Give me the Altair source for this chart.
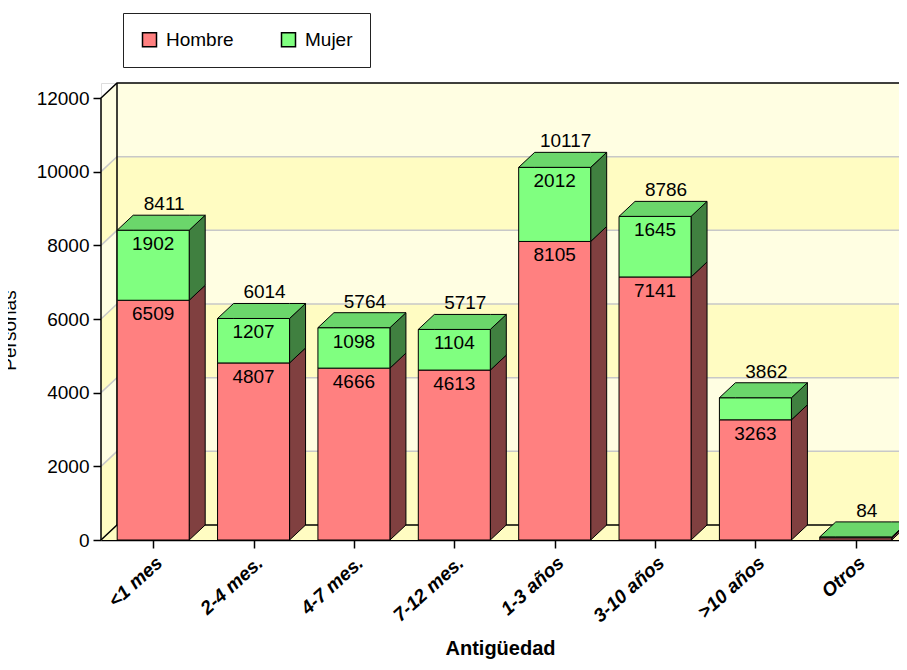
import json
import altair as alt
import pandas as pd

# ---------------- data ----------------
categories = ["<1 mes", "2-4 mes.", "4-7 mes.", "7-12 mes.", "1-3 años", "3-10 años", ">10 años", "Otros"]
hombre = [6509, 4807, 4666, 4613, 8105, 7141, 3263, 58]
mujer = [1902, 1207, 1098, 1104, 2012, 1645, 599, 26]
series = ["Hombre", "Mujer"]
y_ticks = [0, 2000, 4000, 6000, 8000, 10000, 12000]

# ---------------- style ----------------
front_colors = ["#FF8080", "#80FF80"]
side_colors = ["#804040", "#408040"]
top_colors = ["#CC6666", "#6BD66B"]
band_colors = ["#FFFCC2", "#FFFEE2"]  # alternating bands from bottom
floor_color = "#FFFCC2"
grid_color = "#C8C8C8"
FONT = "Liberation Sans"

PLOT_W, PLOT_H = 798, 457
X_MIN = -0.52
X_STEP_PX = 100.37
X_MAX = X_MIN + PLOT_W / X_STEP_PX
HW = 36 / X_STEP_PX          # half bar width (front face)
DX = 16 / X_STEP_PX          # 3D depth, horizontal
Y_TOP = 12000
Y_MAX = Y_TOP * PLOT_H / 442
DY = Y_MAX - Y_TOP           # 3D depth, vertical

# ---------------- derived tables ----------------
stacks = [hombre, mujer]
totals = [h + m for h, m in zip(hombre, mujer)]

front_rows, side_rows, top_rows, seg_labels, tot_labels = [], [], [], [], []
for i in range(len(categories)):
    base = 0
    for s, vals in enumerate(stacks):
        v = vals[i]
        y0, y1 = base, base + v
        front_rows.append(dict(x=i - HW, x2=i + HW, lo=y0, hi=y1, Sexo=series[s]))
        pid = f"s{i}_{s}"
        side_rows.append(dict(pid=pid, x=i + HW, lo=y0, hi=y1, col=side_colors[s]))
        side_rows.append(dict(pid=pid, x=i + HW + DX, lo=y0 + DY, hi=y1 + DY, col=side_colors[s]))
        seg_labels.append(dict(x=i, lo=y1, value=v))
        base = y1
    t = totals[i]
    top_series = 1 if mujer[i] > 0 else 0
    tc = top_colors[top_series]
    pid = f"t{i}"
    top_rows += [
        dict(pid=pid, x=i - HW, lo=t, hi=t, col=tc),
        dict(pid=pid, x=i - HW + DX, lo=t, hi=t + DY, col=tc),
        dict(pid=pid, x=i + HW, lo=t, hi=t + DY, col=tc),
        dict(pid=pid, x=i + HW + DX, lo=t + DY, hi=t + DY, col=tc),
    ]
    tot_labels.append(dict(x=i, lo=t, value=t))

back_rows, left_rows = [], []
for k in range(len(y_ticks) - 1):
    a, b = y_ticks[k], y_ticks[k + 1]
    c = band_colors[k % 2]
    back_rows.append(dict(x=X_MIN + DX, x2=X_MAX, lo=a + DY, hi=b + DY, col=c))
    left_rows.append(dict(pid=f"l{k}", x=X_MIN, lo=a, hi=b, col=c))
    left_rows.append(dict(pid=f"l{k}", x=X_MIN + DX, lo=a + DY, hi=b + DY, col=c))

floor_rows = [
    dict(pid="f", x=X_MIN, lo=0, hi=0, col=floor_color),
    dict(pid="f", x=X_MIN + DX, lo=0, hi=DY, col=floor_color),
    dict(pid="f", x=X_MAX, lo=0, hi=DY, col=floor_color),
]

grid_rows = []
for v in y_ticks[1:-1]:
    for o, (xx, yy) in enumerate([(X_MIN, v), (X_MIN + DX, v + DY), (X_MAX, v + DY)]):
        grid_rows.append(dict(pid=f"g{v}", ord=o, x=xx, lo=yy))

outline_paths = {
    "A": [(X_MIN, 0), (X_MIN, Y_TOP), (X_MIN + DX, Y_MAX), (X_MAX, Y_MAX)],
    "B": [(X_MIN + DX, DY), (X_MIN + DX, Y_MAX)],
    "C": [(X_MIN, 0), (X_MIN + DX, DY), (X_MAX, DY)],
}
outline_rows = []
for pid, pts in outline_paths.items():
    for o, (xx, yy) in enumerate(pts):
        outline_rows.append(dict(pid=pid, ord=o, x=xx, lo=yy))

# ---------------- scales / axes ----------------
xs = alt.Scale(domain=[X_MIN, X_MAX], nice=False, zero=False)
ys = alt.Scale(domain=[0, Y_MAX], nice=False, zero=False)

x_axis = alt.Axis(
    values=list(range(len(categories))),
    labelExpr=f"{json.dumps(categories, ensure_ascii=False)}[datum.value]",
    labelAngle=318, labelAlign="right", labelBaseline="top",
    labelFont=FONT, labelFontSize=19, labelFontWeight="bold", labelFontStyle="italic",
    labelColor="black", labelPadding=5, labelOffset=0, labelFlush=False, labelOverlap=False,
    tickSize=8, tickColor="black", tickWidth=1.5,
    domainColor="black", domainWidth=1.5, grid=False,
    title="Antigüedad", titleFont=FONT, titleFontSize=20, titleFontWeight="bold",
    titleColor="black", titleY=114, titleBaseline="alphabetic",
)
y_axis = alt.Axis(
    values=y_ticks, format="d", domain=False, grid=False,
    tickSize=8, tickColor="black", tickWidth=1.5,
    labelFont=FONT, labelFontSize=19, labelColor="black", labelPadding=4, labelFlush=False,
    title="Personas", titleFont=FONT, titleFontSize=19, titleFontWeight="normal",
    titleColor="black", titleX=-86, titleY=247, titleAngle=270, titleBaseline="alphabetic",
)

def X(f="x"):
    return alt.X(f"{f}:Q", scale=xs, axis=x_axis)

def Y(f="lo"):
    return alt.Y(f"{f}:Q", scale=ys, axis=y_axis, stack=None)

X2 = alt.X2("x2:Q")
Y2 = alt.Y2("hi:Q")
FILL = alt.Fill("col:N", scale=None)

back = alt.Chart(pd.DataFrame(back_rows)).mark_rect(opacity=1).encode(
    x=X(), x2=X2, y=Y(), y2=Y2, fill=FILL)
left = alt.Chart(pd.DataFrame(left_rows)).mark_area(orient="vertical", opacity=1).encode(
    x=X(), y=Y(), y2=Y2, fill=FILL, detail="pid:N")
floor = alt.Chart(pd.DataFrame(floor_rows)).mark_area(orient="vertical", opacity=1).encode(
    x=X(), y=Y(), y2=Y2, fill=FILL, detail="pid:N")
grid = alt.Chart(pd.DataFrame(grid_rows)).mark_line(color=grid_color, strokeWidth=1.5).encode(
    x=X(), y=Y(), detail="pid:N", order=alt.Order("ord:Q"))
outline = alt.Chart(pd.DataFrame(outline_rows)).mark_line(color="black", strokeWidth=1.5).encode(
    x=X(), y=Y(), detail="pid:N", order=alt.Order("ord:Q"))

sides = alt.Chart(pd.DataFrame(side_rows)).mark_area(
    orient="vertical", opacity=1, stroke="black", strokeWidth=1).encode(
    x=X(), y=Y(), y2=Y2, fill=FILL, detail="pid:N")
fronts = alt.Chart(pd.DataFrame(front_rows)).mark_rect(
    opacity=1, stroke="black", strokeWidth=1).encode(
    x=X(), x2=X2, y=Y(), y2=Y2,
    color=alt.Color("Sexo:N",
                    scale=alt.Scale(domain=series, range=front_colors),
                    legend=alt.Legend(
                        title=None, orient="none", legendX=22, legendY=-70,
                        direction="horizontal", symbolType="square", symbolSize=196,
                        symbolStrokeColor="black", symbolStrokeWidth=1.5,
                        labelFont=FONT, labelFontSize=19, labelColor="black",
                        labelOffset=7, columnPadding=44, padding=17,
                        strokeColor="#222222", fillColor="white")))
tops = alt.Chart(pd.DataFrame(top_rows)).mark_area(
    orient="vertical", opacity=1, stroke="black", strokeWidth=1).encode(
    x=X(), y=Y(), y2=Y2, fill=FILL, detail="pid:N")

seg_text = alt.Chart(pd.DataFrame(seg_labels)).transform_filter(
    "datum.value >= 1000").mark_text(
    font=FONT, fontSize=19, color="black", baseline="middle", dy=14).encode(
    x=X(), y=Y(), text="value:Q")
tot_text = alt.Chart(pd.DataFrame(tot_labels)).mark_text(
    font=FONT, fontSize=19, color="black", baseline="middle", dx=11, dy=-26).encode(
    x=X(), y=Y(), text="value:Q")

chart = alt.layer(back, left, floor, grid, outline, sides, fronts, tops, seg_text, tot_text).properties(
    width=PLOT_W, height=PLOT_H,
    autosize=alt.AutoSizeParams(type="none"),
    padding={"left": 93, "top": 75, "right": 0, "bottom": 122},
    background="white",
).configure_view(stroke=None).configure_legend(strokeWidth=2).configure(font=FONT)

chart.save("out.html", embed_options={"renderer": "svg", "actions": False})
